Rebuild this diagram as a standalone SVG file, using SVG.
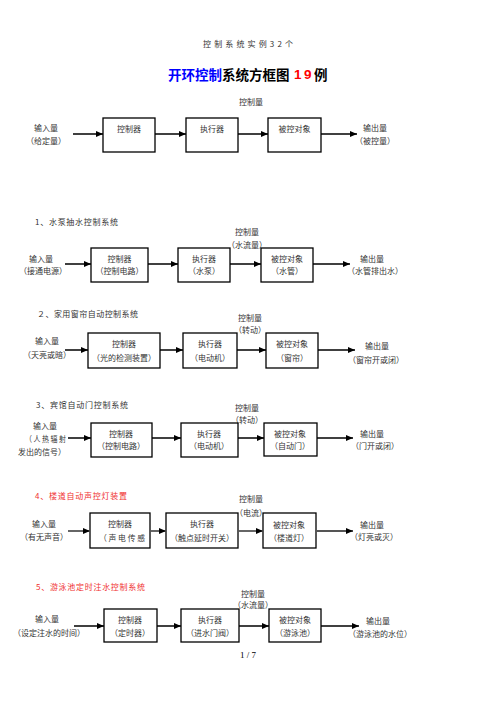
<svg xmlns="http://www.w3.org/2000/svg" width="496" height="702" viewBox="0 0 496 702">
<style>
.t{font-family:"Noto Sans CJK SC","Liberation Sans",sans-serif;font-size:8px;fill:#333;text-anchor:middle;dominant-baseline:central}
.h{font-family:"Noto Sans CJK SC","Liberation Sans",sans-serif;font-size:8px;fill:#333;dominant-baseline:central}
.red{fill:#f03030}
.box{fill:#fff;stroke:#000;stroke-width:1.3}
.arr{stroke:#000;stroke-width:1.5;fill:none;marker-end:url(#ah)}
.arrg{stroke:#555;stroke-width:1.8;fill:none;marker-end:url(#ahg)}
</style>
<defs>
<marker id="ah" markerUnits="userSpaceOnUse" markerWidth="7" markerHeight="6" refX="7" refY="3" orient="auto"><path d="M0,0 L7,3 L0,6 z" fill="#000"/></marker>
<marker id="ahg" markerUnits="userSpaceOnUse" markerWidth="7" markerHeight="6" refX="7" refY="3" orient="auto"><path d="M0,0 L7,3 L0,6 z" fill="#000"/></marker>
</defs>
<rect width="496" height="702" fill="#fff"/>
<g id="header">
<text class="h" x="203" y="43" font-size="9" textLength="90" lengthAdjust="spacing">控制系统实例32个</text>
<text x="168" y="74" font-family="'Noto Sans CJK SC',sans-serif" font-size="13.5" font-weight="bold" dominant-baseline="central"><tspan fill="#0000ff">开环控制</tspan><tspan fill="#000">系统方框图</tspan><tspan x="294" fill="#ff0000" font-family="'Liberation Sans',sans-serif">1</tspan><tspan x="304" fill="#ff0000" font-family="'Liberation Sans',sans-serif">9</tspan><tspan x="314" fill="#000">例</tspan></text>
</g>

<!-- Diagram 0 -->
<g id="d0-labels">
<text class="t" x="251" y="101">控制量</text>
<text class="t" x="46" y="127">输入量</text><text class="t" x="46" y="140">（给定量）</text>
<text class="t" x="375" y="127">输出量</text><text class="t" x="375" y="140">（被控量）</text>
</g>
<g id="d0-controller"><rect class="box" x="103" y="118" width="52" height="34"/><text class="t" x="129" y="128">控制器</text></g>
<g id="d0-actuator"><rect class="box" x="186" y="118" width="52" height="34"/><text class="t" x="212" y="128">执行器</text></g>
<g id="d0-plant"><rect class="box" x="268" y="118" width="53" height="34"/><text class="t" x="294.5" y="128">被控对象</text></g>

<!-- Diagram 1 -->
<g id="d1-labels">
<text class="h" x="35" y="221" textLength="83" lengthAdjust="spacing">1、水泵抽水控制系统</text>
<text class="t" x="247" y="231">控制量</text><text class="t" x="247" y="244">（水流量）</text>
<text class="t" x="41" y="258">输入量</text><text class="t" x="43" y="270">（接通电源）</text>
<text class="t" x="372" y="258">输出量</text><text class="t" x="375" y="270">（水管排出水）</text>
</g>
<g id="d1-controller"><rect class="box" x="91" y="248" width="57" height="34"/><text class="t" x="119.5" y="258">控制器</text><text class="t" x="119.5" y="270">（控制电路）</text></g>
<g id="d1-actuator"><rect class="box" x="178" y="248" width="52" height="34"/><text class="t" x="204" y="258">执行器</text><text class="t" x="204" y="270">（水泵）</text></g>
<g id="d1-plant"><rect class="box" x="261" y="248" width="52" height="34"/><text class="t" x="287" y="258">被控对象</text><text class="t" x="287" y="270">（水管）</text></g>

<!-- Diagram 2 -->
<g id="d2-labels">
<text class="h" x="37" y="313" textLength="101" lengthAdjust="spacing">２、家用窗帘自动控制系统</text>
<text class="t" x="250" y="317">控制量</text><text class="t" x="250" y="329">（转动）</text>
<text class="t" x="47" y="340">输入量</text><text class="t" x="47" y="354">（天亮或暗）</text>
<text class="t" x="377" y="345">输出量</text><text class="t" x="376" y="359">（窗帘开或闭）</text>
</g>
<g id="d2-controller"><rect class="box" x="88" y="333" width="72" height="35"/><text class="t" x="124" y="343">控制器</text><text class="t" x="124" y="357">（光的检测装置）</text></g>
<g id="d2-actuator"><rect class="box" x="183" y="333" width="54" height="35"/><text class="t" x="210" y="343">执行器</text><text class="t" x="210" y="357">（电动机）</text></g>
<g id="d2-plant"><rect class="box" x="266" y="333" width="52" height="35"/><text class="t" x="292" y="343">被控对象</text><text class="t" x="292" y="357">（窗帘）</text></g>

<!-- Diagram 3 -->
<g id="d3-labels">
<text class="h" x="36" y="404" textLength="92" lengthAdjust="spacing">3、宾馆自动门控制系统</text>
<text class="t" x="247" y="407">控制量</text><text class="t" x="247" y="419">（转动）</text>
<text class="t" x="45" y="425">输入量</text>
<text class="h" x="25" y="438" textLength="41" lengthAdjust="spacingAndGlyphs">（ 人 热 辐 射</text>
<text class="t" x="42" y="451">发出的信号）</text>
<text class="t" x="372" y="433">输出量</text><text class="t" x="375" y="445">（门开或闭）</text>
</g>
<g id="d3-controller"><rect class="box" x="91" y="423" width="61" height="34"/><text class="t" x="121" y="433">控制器</text><text class="t" x="121" y="445">（控制电路）</text></g>
<g id="d3-actuator"><rect class="box" x="181" y="423" width="57" height="34"/><text class="t" x="209" y="433">执行器</text><text class="t" x="209" y="445">（电动机）</text></g>
<g id="d3-plant"><rect class="box" x="264" y="423" width="53" height="33"/><text class="t" x="290" y="433">被控对象</text><text class="t" x="290" y="445">（自动门）</text></g>

<!-- Diagram 4 -->
<g id="d4-labels">
<text class="h red" x="35" y="495" textLength="92" lengthAdjust="spacing">4、楼道自动声控灯装置</text>
<text class="t" x="251" y="498">控制量</text><text class="t" x="251" y="512">（电流）</text>
<text class="t" x="44" y="523">输入量</text><text class="t" x="44" y="536">（有无声音）</text>
<text class="t" x="372" y="524">输出量</text><text class="t" x="374" y="536">（灯亮或灭）</text>
</g>
<g id="d4-controller"><rect class="box" x="90" y="513" width="60" height="35"/><text class="t" x="120" y="523">控制器</text><text class="h" x="99" y="537" textLength="46" lengthAdjust="spacingAndGlyphs">（ 声 电 传 感</text></g>
<g id="d4-actuator"><rect class="box" x="166" y="513" width="72" height="35"/><text class="t" x="202" y="523">执行器</text><text class="t" x="202" y="537">（触点延时开关）</text></g>
<g id="d4-plant"><rect class="box" x="263" y="513" width="53" height="35"/><text class="t" x="289" y="524">被控对象</text><text class="t" x="289" y="537">（楼道灯）</text></g>

<!-- Diagram 5 -->
<g id="d5-labels">
<text class="h red" x="36" y="586" textLength="109" lengthAdjust="spacing">5、游泳池定时注水控制系统</text>
<text class="t" x="253" y="593">控制量</text><text class="t" x="253" y="604">（水流量）</text>
<text class="t" x="47" y="618">输入量</text><text class="t" x="49" y="632">（设定注水的时间）</text>
<text class="t" x="378" y="620">输出量</text><text class="t" x="380" y="633">（游泳池的水位）</text>
</g>
<g id="d5-controller"><rect class="box" x="104" y="609" width="53" height="33"/><text class="t" x="130" y="619">控制器</text><text class="t" x="130" y="632">（定时器）</text></g>
<g id="d5-actuator"><rect class="box" x="181" y="609" width="58" height="33"/><text class="t" x="210" y="619">执行器</text><text class="t" x="210" y="632">（进水门阀）</text></g>
<g id="d5-plant"><rect class="box" x="269" y="609" width="52" height="33"/><text class="t" x="295" y="619">被控对象</text><text class="t" x="295" y="632">（游泳池）</text></g>

<g id="footer"><text x="248" y="655" font-family="'Liberation Serif',serif" font-size="9" fill="#000" text-anchor="middle" dominant-baseline="central">1 / 7</text></g>

<g id="connectors">
<line class="arr" x1="73" y1="134" x2="103" y2="134"/>
<line class="arr" x1="155" y1="134" x2="186" y2="134"/>
<line class="arr" x1="238" y1="134" x2="268" y2="134"/>
<line class="arr" x1="321" y1="134" x2="357" y2="134"/>

<line class="arr" x1="65" y1="264" x2="91" y2="264"/>
<line class="arr" x1="148" y1="264" x2="178" y2="264"/>
<line class="arr" x1="230" y1="264" x2="261" y2="264"/>
<line class="arr" x1="313" y1="264" x2="350" y2="264"/>

<line class="arr" x1="65" y1="350" x2="88" y2="350"/>
<line class="arr" x1="160" y1="350" x2="183" y2="350"/>
<line class="arr" x1="237" y1="350" x2="266" y2="350"/>
<line class="arr" x1="318" y1="350" x2="355" y2="350"/>

<line class="arr" x1="68" y1="438" x2="91" y2="438"/>
<line class="arr" x1="152" y1="438" x2="181" y2="438"/>
<line class="arr" x1="238" y1="438" x2="264" y2="438"/>
<line class="arr" x1="317" y1="438" x2="353" y2="438"/>

<line class="arrg" x1="68" y1="531" x2="90" y2="531"/>
<line class="arrg" x1="150" y1="531" x2="166" y2="531"/>
<line class="arrg" x1="238" y1="531" x2="263" y2="531"/>
<line class="arrg" x1="316" y1="531" x2="353" y2="531"/>

<line class="arr" x1="74" y1="626" x2="104" y2="626"/>
<line class="arr" x1="157" y1="626" x2="181" y2="626"/>
<line class="arr" x1="239" y1="626" x2="269" y2="626"/>
<line class="arr" x1="321" y1="626" x2="359" y2="626"/>
</g>
</svg>
